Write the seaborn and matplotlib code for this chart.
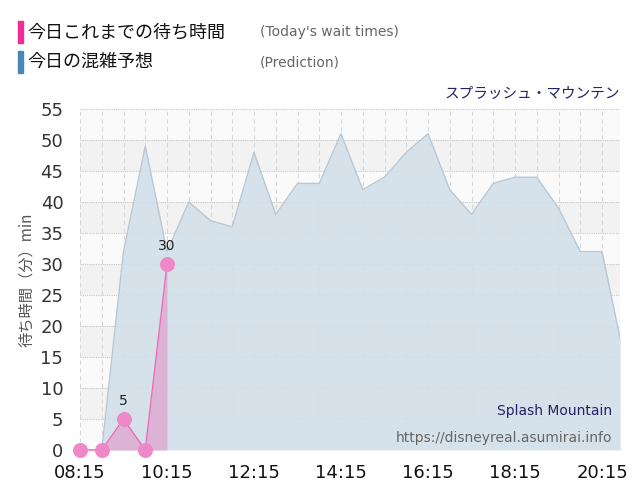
import matplotlib
matplotlib.use("Agg")
import matplotlib.pyplot as plt
import seaborn as sns
import numpy as np
import pandas as pd

sns.set_style("white")
plt.rcParams['font.family'] = ['Noto Sans CJK JP', 'DejaVu Sans']

pred_times = ["08:15","08:45","09:15","09:45","10:15","10:45","11:15","11:45","12:15","12:45",
              "13:15","13:45","14:15","14:45","15:15","15:45","16:15","16:45","17:15","17:45",
              "18:15","18:45","19:15","19:45","20:15","20:40"]
pred_vals = [0,0,32,49,32,40,37,36,48,38,43,43,51,42,44,48,51,42,38,43,44,44,39,32,32,18]
act_times = ["08:15","08:45","09:15","09:45","10:15"]
act_vals = [0,0,5,0,30]
xtick_labels = ["08:15","10:15","12:15","14:15","16:15","18:15","20:15"]

def tomin(t):
    h, m = t.split(":")
    return int(h)*60 + int(m)

pred = pd.DataFrame({"t": [tomin(t) for t in pred_times], "v": pred_vals})
act = pd.DataFrame({"t": [tomin(t) for t in act_times], "v": act_vals})

fig = plt.figure(figsize=(6.4, 5), dpi=100)
ax = fig.add_axes([80/640, 1-450/500, 540/640, 341/500])
x0 = tomin("08:15")
xmax = x0 + 540/43.5*60
ax.set_xlim(x0, xmax)
ax.set_ylim(0, 55)

for i in range(11):
    ax.axhspan(i*5, i*5+5, color="#f2f2f2" if i % 2 else "#fafafa", zorder=0, lw=0)
for y in range(0, 56, 5):
    ax.axhline(y, color="#c8c8c8", lw=0.8, ls=(0, (1, 1)), zorder=1)
for t in np.arange(x0, xmax, 30):
    ax.axvline(t, color="#d8d8d8", lw=0.8, ls=(0, (4, 3)), zorder=1)

ax.fill_between(pred["t"], pred["v"], color="#d3e0ea", alpha=0.9, zorder=2, lw=0)
sns.lineplot(data=pred, x="t", y="v", ax=ax, color="#b8c8d4", lw=1, zorder=3)
ax.fill_between(act["t"], act["v"], color="#e0a8d0", alpha=0.8, zorder=4, lw=0)
sns.lineplot(data=act, x="t", y="v", ax=ax, color="#f06aba", lw=1, zorder=5,
             marker="o", markersize=10, markerfacecolor="#ee88c8", markeredgecolor="#ee88c8",
             clip_on=False)
for t, v in zip(act["t"], act["v"]):
    if v > 0:
        ax.text(t, v + 1.8, str(v), ha="center", va="bottom", fontsize=10, color="#222",
                family="DejaVu Sans")

ax.set_xticks([tomin(t) for t in xtick_labels])
ax.set_xticklabels(xtick_labels, fontsize=13, family="DejaVu Sans", color="#111")
ax.set_yticks(range(0, 56, 5))
ax.set_yticklabels([str(y) for y in range(0, 56, 5)], fontsize=13, color="#333", family="DejaVu Sans")
ax.tick_params(axis="x", length=0, pad=10)
ax.tick_params(axis="y", length=0, pad=12)
ax.set_xlabel("")
ax.set_ylabel("待ち時間（分）min", fontsize=11, color="#555", labelpad=4)
for s in ax.spines.values():
    s.set_visible(False)

ax.text(1.0, 1.025, "スプラッシュ・マウンテン", transform=ax.transAxes, ha="right", va="bottom",
        fontsize=10.5, color="#222266")
ax.text(0.985, 0.095, "Splash Mountain", transform=ax.transAxes, ha="right", va="bottom",
        fontsize=10, color="#222266", family="DejaVu Sans")
ax.text(0.985, 0.015, "https://disneyreal.asumirai.info", transform=ax.transAxes, ha="right",
        va="bottom", fontsize=10, color="#666", family="DejaVu Sans")

fig.patches.append(plt.Rectangle((18/640, 1-43/500), 5/640, 22/500, transform=fig.transFigure, color="#ee2d95"))
fig.patches.append(plt.Rectangle((18/640, 1-73/500), 5/640, 22/500, transform=fig.transFigure, color="#4a86b8"))
fig.text(27/640, 1-32/500, "今日これまでの待ち時間", fontsize=13, va="center", color="#111")
fig.text(27/640, 1-62/500, "今日の混雑予想", fontsize=13, va="center", color="#111")
fig.text(260/640, 1-32/500, "(Today's wait times)", fontsize=10, va="center", color="#666", family="DejaVu Sans")
fig.text(260/640, 1-62/500, "(Prediction)", fontsize=10, va="center", color="#666", family="DejaVu Sans")

fig.savefig("out.png", dpi=100)
